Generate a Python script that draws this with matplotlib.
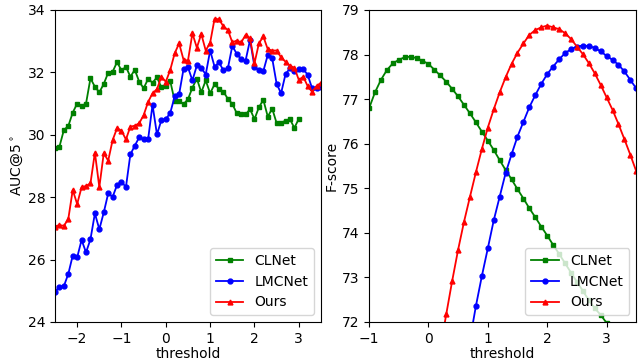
import numpy as np
import matplotlib
matplotlib.use('Agg')
import matplotlib.pyplot as plt

# AUC@5 (left panel), threshold -2.5 .. 3.5 step 0.1
auc_t = np.round(np.arange(-2.5, 3.51, 0.1), 1)
auc_clnet = [29.59, 29.62, 30.15, 30.28, 30.71, 31.00, 30.92, 31.00, 31.81, 31.54,
             31.36, 31.63, 31.99, 32.02, 32.33, 32.06, 32.18, 31.86, 32.08, 31.70,
             31.49, 31.79, 31.67, 31.84, 31.52, 31.57, 31.72, 31.08, 31.08, 30.98,
             31.14, 31.51, 31.80, 31.36, 31.74, 31.33, 31.62, 31.47, 31.38, 31.15,
             30.99, 30.69, 30.67, 30.65, 30.82, 30.50, 30.88, 31.12, 30.58, 30.84,
             30.37, 30.39, 30.45, 30.50, 30.22, 30.51]
auc_lmcnet = [24.96, 25.13, 25.15, 25.54, 26.13, 26.07, 26.63, 26.23, 26.65, 27.48,
              26.97, 27.51, 28.12, 28.01, 28.39, 28.50, 28.32, 29.37, 29.65, 29.92,
              29.85, 29.85, 30.96, 30.01, 30.47, 30.50, 30.70, 31.23, 31.30, 32.11,
              32.16, 31.74, 32.22, 32.15, 31.93, 32.70, 32.18, 32.32, 32.06, 32.13,
              32.85, 32.59, 32.43, 32.38, 33.04, 32.18, 32.06, 32.04, 32.56, 32.45,
              31.63, 31.33, 31.94, 32.13, 32.04, 32.11, 32.11, 31.92, 31.49, 31.49,
              31.54]
auc_ours = [27.06, 27.11, 27.08, 27.30, 28.23, 27.78, 28.32, 28.36, 28.44, 29.43,
            28.32, 29.41, 29.17, 29.83, 30.21, 30.13, 29.85, 30.26, 30.29, 30.37,
            30.63, 31.05, 31.33, 31.46, 31.86, 31.70, 32.08, 32.61, 32.93, 32.40,
            32.38, 33.25, 32.79, 33.23, 32.70, 32.95, 33.72, 33.70, 33.47, 33.36,
            32.96, 33.02, 32.96, 33.20, 33.09, 32.29, 32.93, 33.15, 32.74, 32.70,
            32.70, 32.48, 32.34, 32.21, 32.15, 31.76, 31.86, 31.56, 31.38, 31.56,
            31.67]

# F-score (right panel)
f_t_clnet = np.round(np.arange(-1.0, 3.01, 0.1), 1)
f_clnet = [76.79, 77.15, 77.43, 77.65, 77.80, 77.88, 77.94, 77.95, 77.92, 77.86,
           77.79, 77.66, 77.53, 77.39, 77.23, 77.06, 76.87, 76.68, 76.48, 76.27,
           76.07, 75.86, 75.63, 75.41, 75.20, 74.98, 74.77, 74.55, 74.35, 74.14,
           73.94, 73.73, 73.53, 73.32, 73.11, 72.90, 72.70, 72.49, 72.31, 72.16,
           71.98]
f_t_lmcnet = np.round(np.arange(0.7, 3.51, 0.1), 1)
f_lmcnet = [71.60, 72.36, 73.03, 73.65, 74.28, 74.81, 75.34, 75.76, 76.16, 76.49,
            76.82, 77.09, 77.34, 77.56, 77.73, 77.89, 78.03, 78.12, 78.18, 78.20,
            78.19, 78.15, 78.07, 77.97, 77.88, 77.77, 77.62, 77.43, 77.24]
f_t_ours = np.round(np.arange(0.2, 3.51, 0.1), 1)
f_ours = [71.40, 72.17, 72.92, 73.62, 74.25, 74.81, 75.36, 75.88, 76.36, 76.77,
          77.15, 77.49, 77.79, 78.04, 78.25, 78.44, 78.55, 78.61, 78.65, 78.61,
          78.57, 78.48, 78.35, 78.18, 78.01, 77.81, 77.58, 77.32, 77.04, 76.76,
          76.44, 76.10, 75.75, 75.38]

fig = plt.figure(figsize=(6.44, 3.62), dpi=100)
ax1 = fig.add_axes([0.0854, 0.1105, 0.413, 0.862])
ax2 = fig.add_axes([0.573, 0.1105, 0.415, 0.862])

kw = dict(lw=1.3, ms=3.5)
ax1.plot(auc_t[:len(auc_clnet)], auc_clnet, 's-', c='green', label='CLNet', **kw)
ax1.plot(auc_t, auc_lmcnet, 'o-', c='blue', label='LMCNet', **kw)
ax1.plot(auc_t, auc_ours, '^-', c='red', label='Ours', **kw)
ax1.set_xlim(-2.5, 3.5)
ax1.set_ylim(24, 34)
ax1.set_xticks([-2, -1, 0, 1, 2, 3])
ax1.set_yticks([24, 26, 28, 30, 32, 34])
ax1.set_xlabel('threshold', labelpad=1)
ax1.set_ylabel(r'AUC@5$^\circ$', labelpad=2)
ax1.legend(loc='lower right')

ax2.plot(f_t_clnet, f_clnet, 's-', c='green', label='CLNet', **kw)
ax2.plot(f_t_lmcnet, f_lmcnet, 'o-', c='blue', label='LMCNet', **kw)
ax2.plot(f_t_ours, f_ours, '^-', c='red', label='Ours', **kw)
ax2.set_xlim(-1, 3.5)
ax2.set_ylim(72, 79)
ax2.set_xticks([-1, 0, 1, 2, 3])
ax2.set_xlabel('threshold', labelpad=1)
ax2.set_ylabel('F-score', labelpad=2)
ax2.legend(loc='lower right')

for ax in (ax1, ax2):
    ax.tick_params(labelsize=10)

fig.savefig('out.png', dpi=100)
